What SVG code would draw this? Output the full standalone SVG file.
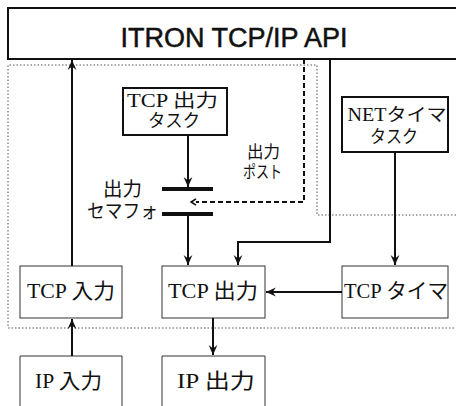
<svg xmlns="http://www.w3.org/2000/svg" width="456" height="406" viewBox="0 0 456 406">
  <style>
    .txt { font-family: "Liberation Serif", "Noto Sans CJK JP", serif; font-size: 21px; fill: #111; text-anchor: middle; }
    .two { font-size: 18px; }
    .sem { font-size: 19px; }
    .post { font-size: 17px; }
    .api { font-family: "Liberation Sans", "Noto Sans CJK JP", sans-serif; font-size: 27px; fill: #111; stroke: #111; stroke-width: 0.5; text-anchor: middle; }
    .task { fill: #fff; stroke: #111; stroke-width: 2; }
    .mod { fill: #fff; stroke: #333; stroke-width: 1; }
    .area { fill: none; stroke: #555; stroke-width: 1; stroke-dasharray: 1.5 2; }
    .line { fill: none; stroke: #111; stroke-width: 2; }
    .dash { fill: none; stroke: #111; stroke-width: 2; stroke-dasharray: 5 3; }
    .bar { stroke: #111; stroke-width: 4; }
  </style>
  <defs>
    <marker id="arrow" viewBox="0 0 10 10" refX="9" refY="5" markerWidth="11" markerHeight="11" markerUnits="userSpaceOnUse" orient="auto">
      <path d="M0,1 L9,5 L0,9 L3,5 Z" fill="#111"/>
    </marker>
    <marker id="open" viewBox="0 0 10 10" refX="2" refY="5" markerWidth="8" markerHeight="8" markerUnits="userSpaceOnUse" orient="auto">
      <path d="M2,1 L8,5 L2,9" fill="none" stroke="#111" stroke-width="2"/>
    </marker>
  </defs>

  <rect width="456" height="406" fill="#fff"/>

  <!-- protocol stack area (dotted outline) -->
  <g id="stack-area">
    <path class="area" d="M456,215 H317 V65 H8 V328 H456"/>
  </g>

  <g id="api">
    <rect x="8" y="8" width="460" height="51" fill="#fff" stroke="#111" stroke-width="2"/>
    <text class="api" x="234" y="46.5">ITRON TCP/IP API</text>
  </g>

  <g id="tcp-output-task">
    <rect class="task" x="123" y="88" width="104" height="47"/>
    <text class="txt two" x="172.5" y="107" textLength="91" lengthAdjust="spacingAndGlyphs">TCP 出力</text>
    <text class="txt two" x="174" y="127" textLength="52" lengthAdjust="spacingAndGlyphs">タスク</text>
  </g>

  <g id="net-timer-task">
    <rect class="task" x="342" y="97" width="106" height="55"/>
    <text class="txt two" x="397" y="121" textLength="99" lengthAdjust="spacingAndGlyphs">NETタイマ</text>
    <text class="txt two" x="394" y="143" textLength="48" lengthAdjust="spacingAndGlyphs">タスク</text>
  </g>

  <g id="output-semaphore">
    <line class="bar" x1="162" y1="189" x2="213" y2="189"/>
    <line class="bar" x1="162" y1="214" x2="213" y2="214"/>
    <text class="txt sem" x="122.5" y="196" textLength="39" lengthAdjust="spacingAndGlyphs">出力</text>
    <text class="txt sem" x="122.5" y="218" textLength="71" lengthAdjust="spacingAndGlyphs">セマフォ</text>
  </g>

  <g id="output-post-label">
    <text class="txt post" x="263.5" y="158" textLength="33" lengthAdjust="spacingAndGlyphs">出力</text>
    <text class="txt post" x="262.5" y="178" textLength="39" lengthAdjust="spacingAndGlyphs">ポスト</text>
  </g>

  <g id="tcp-input">
    <rect class="mod" x="20" y="266" width="102" height="52"/>
    <text class="txt" x="71" y="298" textLength="88" lengthAdjust="spacingAndGlyphs">TCP 入力</text>
  </g>

  <g id="tcp-output">
    <rect class="mod" x="162" y="266" width="103" height="52"/>
    <text class="txt" x="213" y="298" textLength="90" lengthAdjust="spacingAndGlyphs">TCP 出力</text>
  </g>

  <g id="tcp-timer">
    <rect class="mod" x="342" y="266" width="106" height="52"/>
    <text class="txt" x="396" y="298" textLength="104" lengthAdjust="spacingAndGlyphs">TCP タイマ</text>
  </g>

  <g id="ip-input">
    <path class="mod" d="M20,410 V356 H122 V410"/>
    <text class="txt" x="68.5" y="388" textLength="67" lengthAdjust="spacingAndGlyphs">IP 入力</text>
  </g>

  <g id="ip-output">
    <path class="mod" d="M162,410 V356 H265 V410"/>
    <text class="txt" x="216" y="388" textLength="78" lengthAdjust="spacingAndGlyphs">IP 出力</text>
  </g>

  <g id="connectors">
    <line class="line" x1="72" y1="266" x2="72" y2="60" marker-end="url(#arrow)"/>
    <line class="line" x1="188" y1="135" x2="188" y2="187" marker-end="url(#arrow)"/>
    <line class="line" x1="188" y1="216" x2="188" y2="265" marker-end="url(#arrow)"/>
    <path class="dash" d="M304,59 V202 H196" marker-end="url(#open)"/>
    <path class="line" d="M330,59 V242 H238 V265" marker-end="url(#arrow)"/>
    <line class="line" x1="395" y1="152" x2="395" y2="265" marker-end="url(#arrow)"/>
    <line class="line" x1="342" y1="292" x2="266" y2="292" marker-end="url(#arrow)"/>
    <line class="line" x1="213" y1="318" x2="213" y2="355" marker-end="url(#arrow)"/>
    <line class="line" x1="72" y1="356" x2="72" y2="319" marker-end="url(#arrow)"/>
  </g>
</svg>
